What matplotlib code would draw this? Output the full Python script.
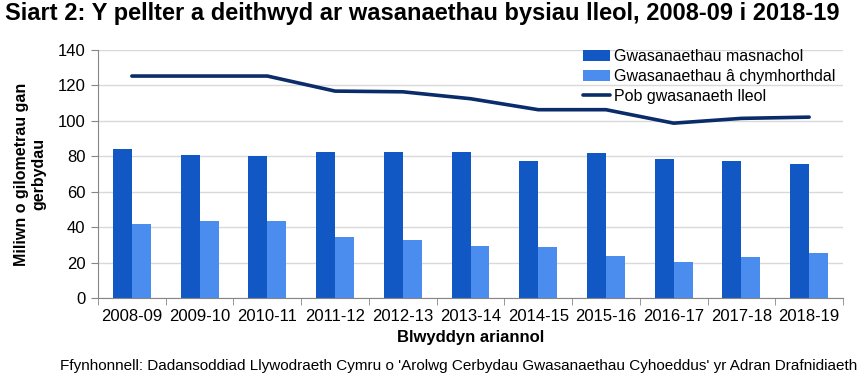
import numpy as np
import matplotlib.pyplot as plt

plt.rcParams['font.family'] = ['Liberation Sans', 'DejaVu Sans']

years = ['2008-09', '2009-10', '2010-11', '2011-12', '2012-13', '2013-14',
         '2014-15', '2015-16', '2016-17', '2017-18', '2018-19']
commercial = [83.9, 81.0, 79.9, 82.2, 82.7, 82.7, 77.1, 81.6, 78.2, 77.1, 75.9]
subsidised = [41.5, 43.7, 43.7, 34.7, 33.0, 29.6, 29.0, 23.9, 20.5, 23.4, 25.6]
all_local = [125.3, 125.3, 125.3, 116.8, 116.4, 112.5, 106.3, 106.3, 98.7, 101.4, 102.1]

c_dark = '#1158C4'
c_light = '#4B8DEE'
c_line = '#0A2C6A'

fig = plt.figure(figsize=(8.63, 3.82), dpi=100)
ax = fig.add_axes([98/863, 1-298/382, 745/863, 248/382])

x = np.arange(len(years))
w = 0.28
b1 = ax.bar(x - w/2, commercial, w, color=c_dark, label='Gwasanaethau masnachol', zorder=2)
b2 = ax.bar(x + w/2, subsidised, w, color=c_light, label='Gwasanaethau â chymhorthdal', zorder=2)
l1, = ax.plot(x, all_local, color=c_line, lw=2.6, solid_capstyle='round',
              label='Pob gwasanaeth lleol', zorder=3)

ax.set_xlim(-0.5, len(years) - 0.5)
ax.set_ylim(0, 140)
ax.set_yticks(range(0, 141, 20))
ax.set_xticks(x)
ax.set_xticklabels(years, fontsize=12)
ax.set_xticks(np.arange(-0.5, len(years)), minor=True)
ax.tick_params(axis='x', which='major', length=0, pad=8)
ax.tick_params(axis='x', which='minor', length=5, color='#868686', direction='out')
ax.tick_params(axis='y', labelsize=12, length=5, color='#868686', pad=4)
ax.grid(axis='y', color='#D9D9D9', lw=1, zorder=0)
for s in ['top', 'right']:
    ax.spines[s].set_visible(False)
for s in ['left', 'bottom']:
    ax.spines[s].set_color('#868686')

ax.set_xlabel('Blwyddyn ariannol', fontsize=12, fontweight='bold', labelpad=4)
ax.set_ylabel('Miliwn o gilometrau gan\ngerbydau', fontsize=11.5, fontweight='bold',
              labelpad=8)

ax.legend(handles=[b1, b2, l1], loc='upper right', bbox_to_anchor=(1.0, 1.035),
          frameon=False, fontsize=11.5, handlelength=1.7, handletextpad=0.2,
          labelspacing=0.3, borderaxespad=0.1)

fig.text(5/863, 1-2/382, 'Siart 2: Y pellter a deithwyd ar wasanaethau bysiau lleol, 2008-09 i 2018-19',
         fontsize=17, fontweight='bold', va='top', ha='left')
fig.text(857/863, 1-366/382,
         "Ffynhonnell: Dadansoddiad Llywodraeth Cymru o 'Arolwg Cerbydau Gwasanaethau Cyhoeddus' yr Adran Drafnidiaeth",
         fontsize=11, va='center', ha='right')

fig.savefig('out.png', dpi=100)
